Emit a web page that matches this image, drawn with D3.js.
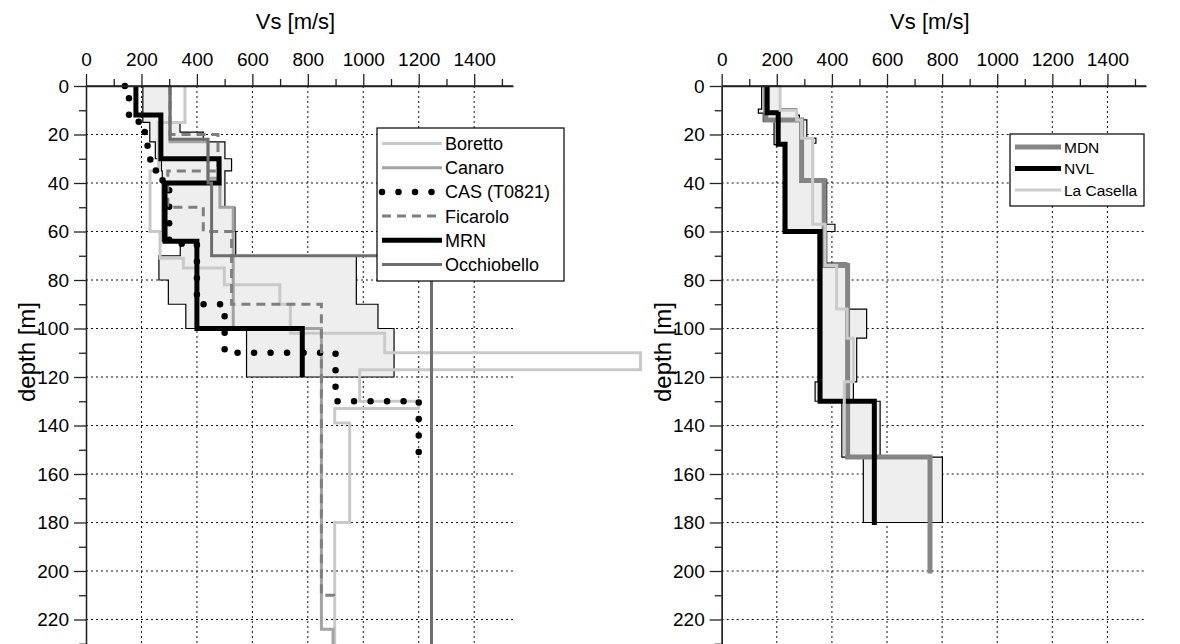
<!DOCTYPE html>
<html>
<head>
<meta charset="utf-8">
<script src="https://cdn.jsdelivr.net/npm/d3@7"></script>
<title>Vs profiles</title>
<style>
body { margin:0; background:#fff; }
text { font-family: "Liberation Sans", Arial, sans-serif; fill:#000; }
</style>
</head>
<body>
<div id="chart"></div>
<script>
// each profile: layer boundaries (depth, m) and one Vs value (m/s) per layer

// left panel
var borettoDepth = [0,15,35,60,71,75,82,90,102,110,117,130,133,139,180,235];
var borettoVs    = [357,262,231,267,351,499,699,737,1077,2000,987,1200,897,951,897];

var canaroDepth  = [0,23,38,50,100,224,235];
var canaroVs     = [303,440,483,531,849,891];

var casDepth     = [0,4,14,18,24,30,34,38,42,65,90,110,130,151];
var casVs        = [140,155,190,212,222,232,252,276,300,400,500,900,1200];

var ficaroloDepth = [0,20,35,50,60,90,210,210.3];
var ficaroloVs    = [303,476,295,423,525,849,893];

var mrnDepth     = [0,12,30,40,64,100,120];
var mrnVs        = [180,270,480,285,400,780];

var occhioDepth  = [0,22,40,70,235];
var occhioVs     = [303,440,453,1246];

// shaded band, left panel
var bandLeftDepth = [0,15,23,30,35,64,70,80,90,100,120];
var bandLeftMin   = [205,230,250,272,275,340,263,297,360,579];
var bandLeftMaxDepth = [0,15,19,23,30,35,50,60,70,90,100,120];
var bandLeftMax      = [303,339,423,501,525,501,537,540,975,1053,1111];

// right panel
var mdnDepth     = [0,14,39,74,153,201];
var mdnVs        = [160,290,372,457,756];

var nvlDepth     = [0,11,24,60,130,181];
var nvlVs        = [165,205,230,357,554];

var casellaDepth = [0,10,14,21.5,57,74,92,104,122,152];
var casellaVs    = [212,272,290,330,375,417,455,478,445];

// shaded band, right panel
var bandRightMinDepth = [0,9.5,11.2,14.6,24.2,60,122,130,153,180];
var bandRightMin      = [145,133,151,190,224,350,339,436,514];
var bandRightMaxDepth = [0,9.5,12,14,21.5,23.6,38.7,57,60,73,92,104,122,130,153,180];
var bandRightMax      = [212,272,282,309,342,333,381,411,381,454,526,490,478,575,801];

var xTicks = [0,200,400,600,800,1000,1200,1400];
var xMinor = [100,300,500,700,900,1100,1300,1500];
var yTicks = [0,20,40,60,80,100,120,140,160,180,200,220];
var yMinor = [10,30,50,70,90,110,130,150,170,190,210,230];

var leftSeries = [
  {name:"Boretto", depth:borettoDepth, vs:borettoVs, color:"#c9c9c9", width:3},
  {name:"Canaro", depth:canaroDepth, vs:canaroVs, color:"#a3a3a3", width:3},
  {name:"CAS (T0821)", depth:casDepth, vs:casVs, color:"#000", width:6.5, dash:"0 16.5"},
  {name:"Ficarolo", depth:ficaroloDepth, vs:ficaroloVs, color:"#7f7f7f", width:3, dash:"9 6"},
  {name:"MRN", depth:mrnDepth, vs:mrnVs, color:"#000", width:5},
  {name:"Occhiobello", depth:occhioDepth, vs:occhioVs, color:"#6e6e6e", width:3}
];
var rightSeries = [
  {name:"MDN", depth:mdnDepth, vs:mdnVs, color:"#858585", width:5},
  {name:"NVL", depth:nvlDepth, vs:nvlVs, color:"#000", width:5},
  {name:"La Casella", depth:casellaDepth, vs:casellaVs, color:"#cbcbcb", width:3}
];

var W = 1180, H = 644;
var svg = d3.select("#chart").append("svg").attr("width", W).attr("height", H);

function steps(depth, vs) {
  var pts = [];
  for (var i = 0; i < vs.length; i++) {
    pts.push({v: vs[i], d: depth[i]});
    pts.push({v: vs[i], d: depth[i+1]});
  }
  return pts;
}

function panel(x0, x1, lb, series, bMinD, bMin, bMaxD, bMax) {
  var x = d3.scaleLinear().domain([0, 1540]).range([x0, x1]);
  var y = d3.scaleLinear().domain([0, 232]).range([86, 86 + 232 * 2.425]);
  var line = d3.line().x(function(p){return x(p.v);}).y(function(p){return y(p.d);});
  var g = svg.append("g");

  // grid
  g.append("g").selectAll("line").data(xTicks.slice(1)).enter().append("line")
    .attr("x1", function(d){return x(d);}).attr("x2", function(d){return x(d);})
    .attr("y1", y(0)).attr("y2", H)
    .attr("stroke", "#111").attr("stroke-dasharray", "2 3");
  g.append("g").selectAll("line").data(yTicks.slice(1)).enter().append("line")
    .attr("x1", x(0)).attr("x2", x1)
    .attr("y1", function(d){return y(d);}).attr("y2", function(d){return y(d);})
    .attr("stroke", "#111").attr("stroke-dasharray", "2 3");

  // band
  var band = steps(bMaxD, bMax).concat(steps(bMinD, bMin).reverse());
  g.append("path").datum(band)
    .attr("d", function(d){ return line(d) + "Z"; })
    .attr("fill", "#eeeeee").attr("stroke", "#000").attr("stroke-width", 1.2);

  // profiles
  g.selectAll("path.prof").data(series).enter().append("path").attr("class", "prof")
    .attr("d", function(s){ return line(steps(s.depth, s.vs)); })
    .attr("fill", "none")
    .attr("stroke", function(s){return s.color;})
    .attr("stroke-width", function(s){return s.width;})
    .attr("stroke-dasharray", function(s){return s.dash || null;})
    .attr("stroke-linecap", function(s){return s.dash && s.dash[0] === "0" ? "round" : "butt";});

  // axes
  var top = g.append("g").attr("transform", "translate(0," + y(0) + ")");
  top.call(d3.axisTop(x).tickValues(xMinor).tickSize(7).tickSizeOuter(0).tickFormat(""));
  top.append("g").call(d3.axisTop(x).tickValues(xTicks).tickSize(12).tickSizeOuter(0)
    .tickPadding(8).tickFormat(d3.format("d")));
  top.select(".domain").attr("d", "M" + x(0) + ",0H" + x1);
  var lft = g.append("g").attr("transform", "translate(" + x(0) + ",0)");
  lft.call(d3.axisLeft(y).tickValues(yMinor).tickSize(7).tickSizeOuter(0).tickFormat(""));
  lft.append("g").call(d3.axisLeft(y).tickValues(yTicks).tickSize(12).tickSizeOuter(0).tickPadding(5));
  g.selectAll(".domain").attr("stroke", "#222").attr("stroke-width", 1.3);
  g.selectAll(".tick line").attr("stroke", "#222").attr("stroke-width", 1.3);
  g.selectAll(".tick text").style("font-size", "19px").style("font-family", "Liberation Sans, Arial, sans-serif");

  g.append("text").attr("x", (x0 + x1) / 2 - 4).attr("y", 29).attr("text-anchor", "middle")
    .style("font-size", "22px").text("Vs [m/s]");
  g.append("text").attr("transform", "translate(" + (x0 - 51) + ",352) rotate(-90)")
    .attr("text-anchor", "middle").style("font-size", "24px").text("depth [m]");

  // legend
  var lg = g.append("g");
  lg.append("rect").attr("x", lb.x).attr("y", lb.y).attr("width", lb.w).attr("height", lb.h)
    .attr("fill", "#fff").attr("stroke", "#000").attr("stroke-width", 1.2);
  var rows = lg.selectAll("g.row").data(series).enter().append("g").attr("class", "row")
    .attr("transform", function(s, i){ return "translate(" + (lb.x + 5) + "," + (lb.y + lb.first + i * lb.step) + ")"; });
  rows.append("line").attr("x1", 0).attr("x2", lb.len).attr("y1", 0).attr("y2", 0)
    .attr("stroke", function(s){return s.color;})
    .attr("stroke-width", function(s){return s.width;})
    .attr("stroke-dasharray", function(s){return s.dash || null;})
    .attr("stroke-linecap", function(s){return s.dash && s.dash[0] === "0" ? "round" : "butt";});
  rows.append("text").attr("x", lb.len + 3).attr("y", lb.font * 0.36)
    .style("font-size", lb.font + "px").text(function(s){return s.name;});
}

panel(86, 513, {x:377, y:128, w:187, h:153, first:15.5, step:24.2, len:60, font:18}, leftSeries,
      bandLeftDepth, bandLeftMin, bandLeftMaxDepth, bandLeftMax);
panel(721.7, 1146, {x:1010, y:134, w:134, h:72, first:13, step:21.5, len:46, font:15.5}, rightSeries,
      bandRightMinDepth, bandRightMin, bandRightMaxDepth, bandRightMax);
</script>
</body>
</html>
